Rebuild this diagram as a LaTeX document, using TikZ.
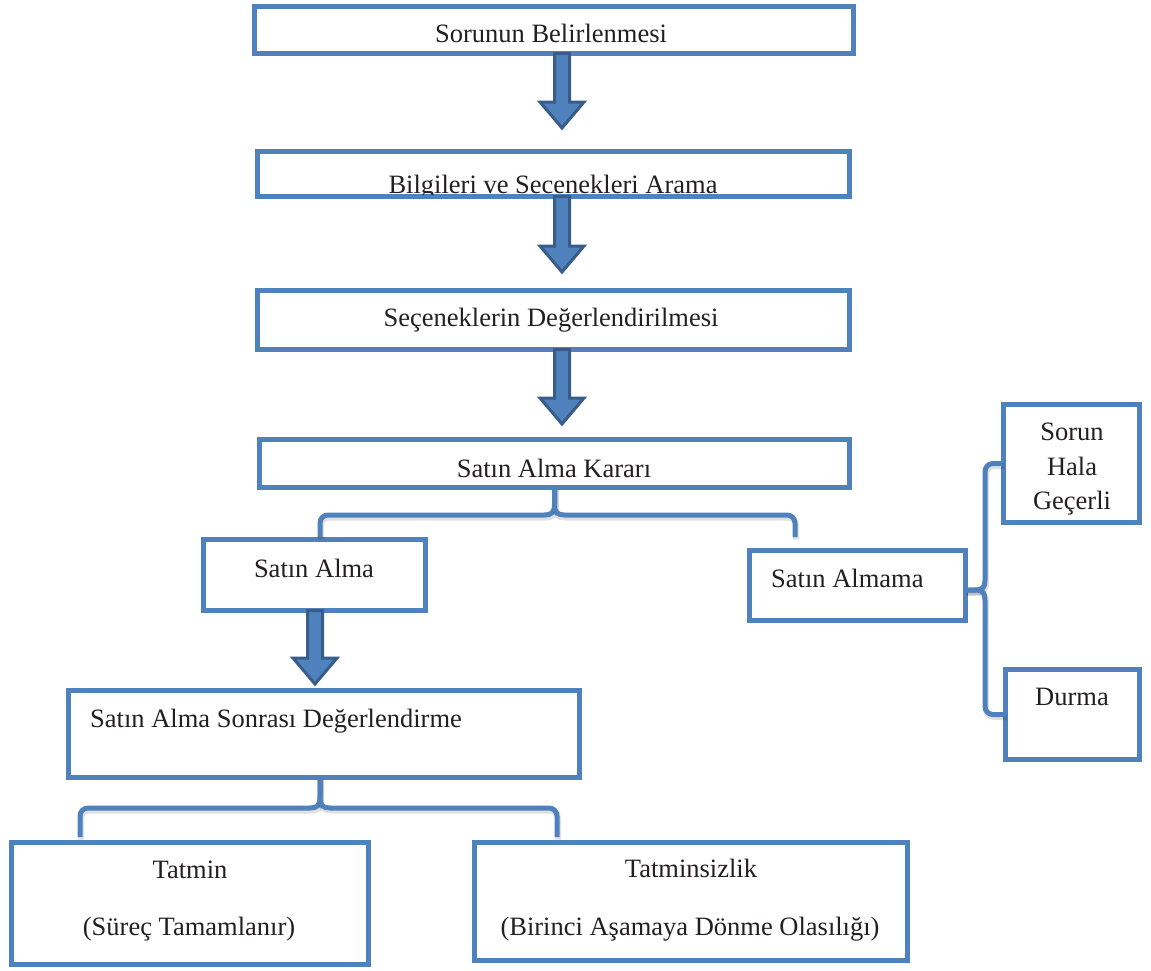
\documentclass[tikz,border=0pt]{standalone}
\usepackage{fontspec}
\setmainfont{Liberation Serif}
\usetikzlibrary{calc}
\definecolor{boxblue}{HTML}{4F81BD}
\definecolor{arrowedge}{HTML}{385D8A}
\definecolor{inkc}{HTML}{231F20}

% thick downward block arrow: #1 = start point on the upper box, #2 = tip
\newcommand{\blockarrow}[2]{%
  \draw[blockarrow] let \p1=#1, \p2=#2 in
    (\x2-7.5pt,\y1) -- (\x2-7.5pt,\y2+26pt) -- (\x2-22pt,\y2+26pt) -- (\x2,\y2)
    -- (\x2+22pt,\y2+26pt) -- (\x2+7.5pt,\y2+26pt) -- (\x2+7.5pt,\y1) -- cycle;}

\tikzset{
  box/.style={draw=boxblue, line width=5pt, fill=white, inner sep=0pt, outer sep=0pt},
  txt/.style={inner sep=0pt, anchor=base, text=inkc, font=\fontsize{26.5}{32}\selectfont},
  blockarrow/.style={fill=boxblue, draw=arrowedge, line width=3pt, line join=miter},
  brace/.style={draw=boxblue, line width=5pt, line join=round,
    preaction={draw=black, opacity=0.12, line width=6pt,
      transform canvas={shift={(1pt,-2.5pt)}}}},
}

\begin{document}
\begin{tikzpicture}[x=1pt, y=-1pt]
\useasboundingbox (0,0) rectangle (1151,970);
\fill[white] (0,0) rectangle (1151,970);

% main stages
\node[box, minimum width=599pt, minimum height=47pt] (b1) at (554,30) {};
\node[box, minimum width=592pt, minimum height=45pt] (b2) at (553.5,174) {};
\node[box, minimum width=592pt, minimum height=59pt] (b3) at (553.5,320) {};
\node[box, minimum width=590pt, minimum height=48pt] (b4) at (554.5,463.5) {};
% purchase branch
\node[box, minimum width=222pt, minimum height=71pt] (sa) at (314.5,575) {};
\node[box, minimum width=511pt, minimum height=87pt] (bg) at (324,734) {};
\node[box, minimum width=357pt, minimum height=122pt] (ta) at (190,903.5) {};
\node[box, minimum width=433pt, minimum height=118pt] (tz) at (691,901.5) {};
% no-purchase branch
\node[box, minimum width=216pt, minimum height=70pt] (sm) at (857.5,585.5) {};
\node[box, minimum width=136pt, minimum height=118pt] (sh) at (1071.5,463.5) {};
\node[box, minimum width=134pt, minimum height=90pt] (du) at (1072.5,714.5) {};

% labels
\node[txt] (l1) at (551,42) {Sorunun Belirlenmesi};
\begin{scope}
  \clip (b2.north west) rectangle ($(b2.south east)+(0,-2.5)$);
  \node[txt] (l2) at (553,193) {Bilgileri ve Secenekleri Arama};
\end{scope}
\node[txt] (l3) at (551,326) {Seçeneklerin Değerlendirilmesi};
\node[txt] (l4) at (554,477) {Satın Alma Kararı};
\node[txt] (l5) at (314,577) {Satın Alma};
\node[txt, anchor=base west] (l6) at (771,587) {Satın Almama};
\node[txt, anchor=base west] (l7) at (90,727) {Satın Alma Sonrası Değerlendirme};
\node[txt] (l8) at (190,878) {Tatmin};
\node[txt] (l9) at (189,935) {(Süreç Tamamlanır)};
\node[txt] (l10) at (691,877) {Tatminsizlik};
\node[txt] (l11) at (690,935) {(Birinci Aşamaya Dönme Olasılığı)};
\node[txt] (l12) at (1072,440) {Sorun};
\node[txt] (l13) at (1072,475) {Hala};
\node[txt] (l14) at (1072,509) {Geçerli};
\node[txt] (l15) at (1072,705) {Durma};

% arrow tips
\coordinate (t1) at (562,128);
\coordinate (t2) at (562,272);
\coordinate (t3) at (562,424);
\coordinate (t4) at (315,684);
\blockarrow{(b1.south -| t1)}{(t1)}
\blockarrow{(b2.south -| t2)}{(t2)}
\blockarrow{(b3.south -| t3)}{(t3)}
\blockarrow{(sa.south -| t4)}{(t4)}

% brace below the decision box
\coordinate (ubl) at (320,537);
\coordinate (ubr) at (795,537);
\draw[brace] (b4.south) -- ++(0,17) .. controls +(0,8) and +(7,0) .. ++(-10,10.5)
  [rounded corners=8pt] -| (ubl);
\draw[brace] (b4.south) -- ++(0,17) .. controls +(0,8) and +(-7,0) .. ++(10,10.5)
  [rounded corners=8pt] -| (ubr);

% brace below the post-purchase evaluation
\coordinate (nb) at ($(bg.south)+(-4,0)$);
\coordinate (lbl) at (80,837);
\coordinate (lbr) at (557,837);
\draw[brace] (nb) -- ++(0,20) .. controls +(0,8) and +(7,0) .. ++(-10,10.5)
  [rounded corners=8pt] -| (lbl);
\draw[brace] (nb) -- ++(0,20) .. controls +(0,8) and +(-7,0) .. ++(10,10.5)
  [rounded corners=8pt] -| (lbr);

% brace to the right of the no-purchase box
\coordinate (nr) at ($(sm.east)+(0,4.5)$);
\draw[brace] (nr) -- ++(9.5,0) .. controls +(8,0) and +(0,7) .. ++(10,-10)
  [rounded corners=8pt] |- (sh.west);
\draw[brace] (nr) -- ++(9.5,0) .. controls +(8,0) and +(0,-7) .. ++(10,10)
  [rounded corners=8pt] |- (du.west);
\end{tikzpicture}
\end{document}
